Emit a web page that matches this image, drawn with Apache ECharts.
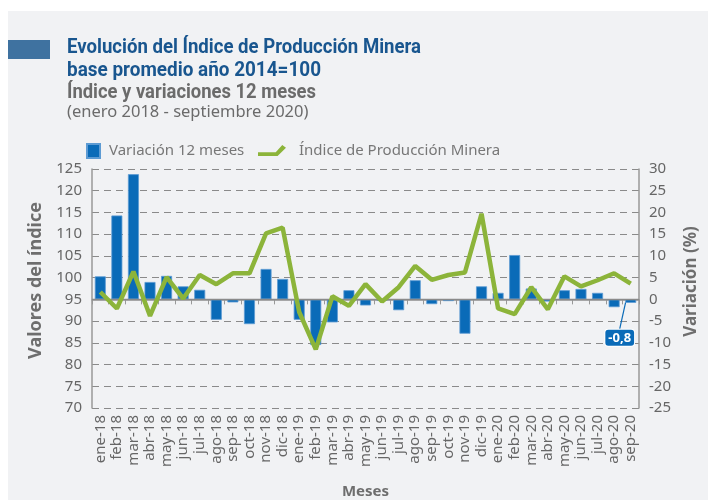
<!DOCTYPE html>
<html>
<head>
<meta charset="utf-8">
<script src="https://cdn.jsdelivr.net/npm/echarts@6/dist/echarts.min.js"></script>
<style>
html,body{margin:0;padding:0;background:#fff;}
#c{width:708px;height:500px;}
</style>
</head>
<body>
<div id="c"></div>
<script>
var categories = ['ene-18','feb-18','mar-18','abr-18','may-18','jun-18','jul-18','ago-18','sep-18','oct-18','nov-18','dic-18',
  'ene-19','feb-19','mar-19','abr-19','may-19','jun-19','jul-19','ago-19','sep-19','oct-19','nov-19','dic-19',
  'ene-20','feb-20','mar-20','abr-20','may-20','jun-20','jul-20','ago-20','sep-20'];
var variacion = [5.3, 19.3, 28.8, 4.0, 5.4, 3.0, 2.2, -4.7, -0.7, -5.7, 7.0, 4.7,
  -4.7, -10.5, -5.3, 2.1, -1.4, -0.3, -2.5, 4.4, -1.1, -0.4, -7.9, 3.0,
  1.5, 10.2, 2.5, -0.5, 2.1, 2.4, 1.5, -1.8, -0.8];
var indice = [96.7, 92.9, 101.4, 91.2, 100.1, 95.2, 100.6, 98.5, 101.0, 101.0, 110.2, 111.5,
  92.1, 83.5, 95.7, 93.5, 98.5, 94.5, 97.8, 102.7, 99.5, 100.6, 101.2, 114.7,
  92.9, 91.6, 97.8, 92.7, 100.3, 98.0, 99.4, 101.0, 98.6];
var leftTicks = {min: 70, max: 125, interval: 5};
var rightTicks = {min: -25, max: 30, interval: 5};
var lastLabel = '-0,8';
var titleLines = ['Evolución del Índice de Producción Minera', 'base promedio año 2014=100', 'Índice y variaciones 12 meses'];
var subtitle = '(enero 2018 - septiembre 2020)';

var gray = '#6e6e6e';
var blue = '#0a6bb8';
var green = '#8cb43a';
var font = 'Noto Sans';

// condensed title rendering: measure text and squeeze to the reference width
var measureCtx = document.createElement('canvas').getContext('2d');
function condensedText(text, font, fill, x, y, targetWidth) {
  measureCtx.font = font;
  var w = measureCtx.measureText(text).width;
  return {
    type: 'text', x: x, y: y, scaleX: targetWidth / w, originX: 0, originY: 0,
    style: {text: text, font: font, fill: fill, verticalAlign: 'middle', align: 'left'}
  };
}
var titleFont = 'bold 20px Roboto';

var barData = variacion.map(function (v, i) {
  if (i === variacion.length - 1) {
    return {
      value: v,
      label: {
        show: true, position: 'bottom', formatter: lastLabel,
        color: '#fff', fontWeight: 'bold', fontSize: 13, fontFamily: font,
        backgroundColor: blue, borderColor: '#fff', borderWidth: 1,
        borderRadius: 3, padding: [2, 3, 1, 3]
      }
    };
  }
  return v;
});

var chart = echarts.init(document.getElementById('c'), null, {renderer: 'canvas'});
chart.setOption({
  backgroundColor: '#ffffff',
  animation: false,
  textStyle: {fontFamily: font},
  graphic: [
    {type: 'rect', left: 8, top: 11, shape: {width: 700, height: 489}, style: {fill: '#f1f2f4'}, z: -10},
    {type: 'rect', left: 8, top: 40, shape: {width: 42, height: 19}, style: {fill: '#3f72a0'}},
    condensedText(titleLines[0], titleFont, '#19568f', 67, 48, 354),
    condensedText(titleLines[1], titleFont, '#19568f', 67, 71, 254),
    condensedText(titleLines[2], titleFont, '#6b6b6b', 67, 92.5, 249),
    {type: 'text', left: 67, top: 104, style: {text: subtitle, fill: '#6b6b6b', font: '16.5px "Noto Sans", sans-serif'}}
  ],
  legend: [
    {
      left: 81, top: 138,
      itemWidth: 13, itemHeight: 14,
      textStyle: {color: '#777', fontSize: 15, fontFamily: font, padding: [0, 0, 0, 4]},
      data: [{name: 'Variación 12 meses', icon: 'rect'}]
    },
    {
      left: 253, top: 138,
      itemWidth: 28, itemHeight: 14,
      textStyle: {color: '#777', fontSize: 15, fontFamily: font, padding: [0, 0, 0, 8]},
      data: [{name: 'Índice de Producción Minera', icon: 'path://M0,9 L19,9 L26,1 L30,4 L21,13 L0,13 Z', itemStyle: {color: green}}]
    }
  ],
  grid: {left: 92, right: 68, top: 169, bottom: 91, containLabel: false},
  xAxis: {
    type: 'category',
    data: categories,
    boundaryGap: true,
    name: 'Meses', nameLocation: 'middle', nameGap: 76,
    nameTextStyle: {color: gray, fontWeight: 'bold', fontSize: 15},
    axisLine: {lineStyle: {color: '#999', width: 1.5}},
    axisTick: {show: true, alignWithLabel: false, length: 5, lineStyle: {color: '#999'}},
    axisLabel: {rotate: 90, interval: 0, color: '#666', fontSize: 15, margin: 7}
  },
  yAxis: [
    {
      type: 'value', min: leftTicks.min, max: leftTicks.max, interval: leftTicks.interval,
      name: 'Valores del índice', nameLocation: 'middle', nameGap: 44,
      nameTextStyle: {color: gray, fontWeight: 'bold', fontSize: 18, padding: [0, 0, 0, 16]},
      axisLine: {show: true, lineStyle: {color: '#999', width: 1.5}},
      axisTick: {show: false},
      axisLabel: {color: '#666', fontSize: 15, margin: 10},
      splitLine: {show: true, lineStyle: {color: '#8a8a8a', width: 1.2, type: [7, 5]}}
    },
    {
      type: 'value', min: rightTicks.min, max: rightTicks.max, interval: rightTicks.interval,
      name: 'Variación (%)', nameLocation: 'middle', nameGap: 44,
      nameTextStyle: {color: gray, fontWeight: 'bold', fontSize: 17, padding: [0, 0, 0, 14]},
      axisLine: {show: true, lineStyle: {color: '#999', width: 1.5}},
      axisTick: {show: false},
      axisLabel: {color: '#666', fontSize: 15, margin: 10},
      splitLine: {show: false}
    }
  ],
  series: [
    {
      name: 'Variación 12 meses',
      type: 'bar',
      yAxisIndex: 1,
      data: barData,
      barWidth: 11,
      itemStyle: {color: blue, borderColor: '#5d9bd3', borderWidth: 0.8},
      labelLayout: {dx: -11, dy: 22},
      labelLine: {show: true, lineStyle: {color: blue, width: 1.2}},
      markLine: {
        silent: true, symbol: 'none', label: {show: false},
        lineStyle: {color: '#8a8a8a', type: 'solid', width: 1.3},
        data: [{yAxis: 0}]
      },
      z: 2
    },
    {
      name: 'Índice de Producción Minera',
      type: 'line',
      yAxisIndex: 0,
      data: indice,
      symbol: 'none',
      lineStyle: {color: green, width: 4.5},
      itemStyle: {color: green},
      z: 5
    }
  ]
});
</script>
</body>
</html>
